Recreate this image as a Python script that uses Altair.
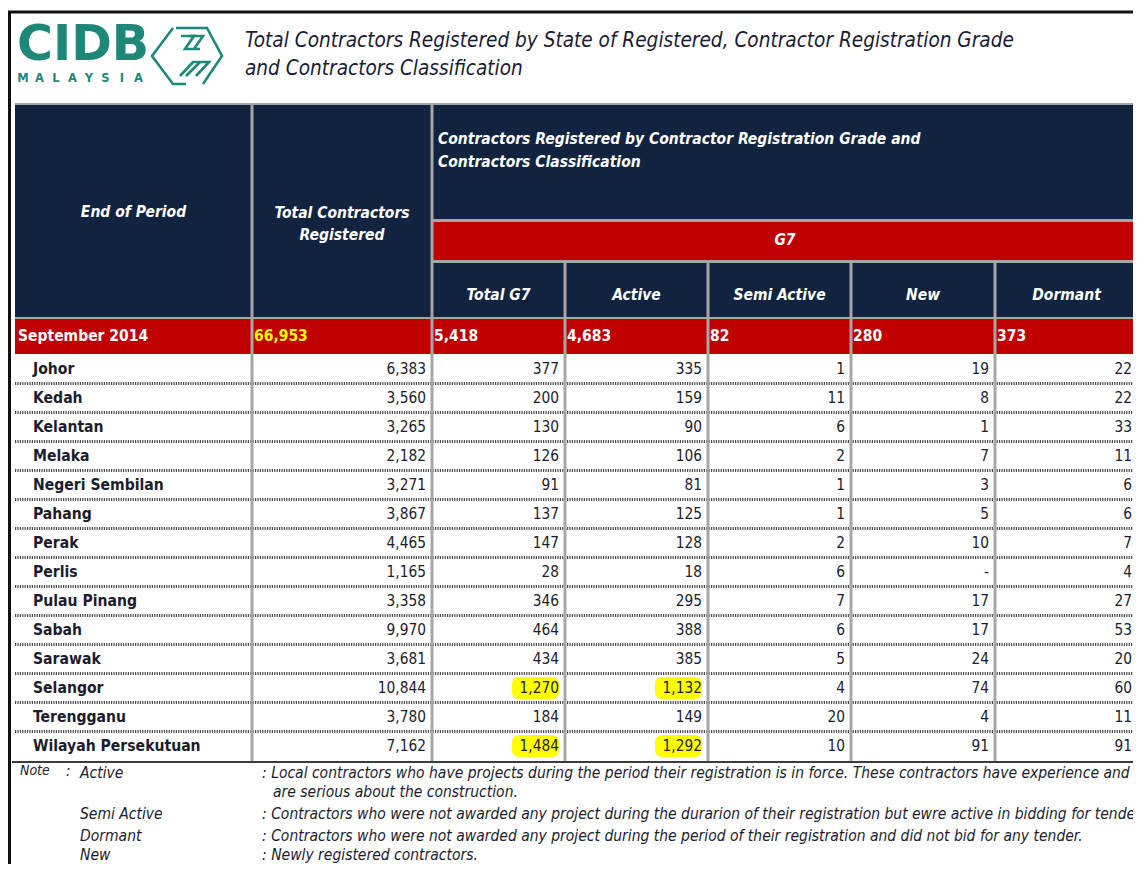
import altair as alt
import pandas as pd

# ---------------- data ----------------
states = ["Johor", "Kedah", "Kelantan", "Melaka", "Negeri Sembilan", "Pahang", "Perak",
          "Perlis", "Pulau Pinang", "Sabah", "Sarawak", "Selangor", "Terengganu",
          "Wilayah Persekutuan"]
total_registered = [6383, 3560, 3265, 2182, 3271, 3867, 4465, 1165, 3358, 9970, 3681, 10844, 3780, 7162]
total_g7 = [377, 200, 130, 126, 91, 137, 147, 28, 346, 464, 434, 1270, 184, 1484]
active = [335, 159, 90, 106, 81, 125, 128, 18, 295, 388, 385, 1132, 149, 1292]
semi_active = [1, 11, 6, 2, 1, 1, 2, 6, 7, 6, 5, 4, 20, 10]
new = [19, 8, 1, 7, 3, 5, 10, None, 17, 17, 24, 74, 4, 91]
dormant = [22, 22, 33, 11, 6, 6, 7, 4, 27, 53, 20, 60, 11, 91]

period_label = "September 2014"
period_totals = [66953, 5418, 4683, 82, 280, 373]
highlighted = [("Selangor", "Total G7"), ("Selangor", "Active"),
               ("Wilayah Persekutuan", "Total G7"), ("Wilayah Persekutuan", "Active")]

title_lines = ["Total Contractors Registered by State of Registered, Contractor Registration Grade",
               "and Contractors Classification"]
head_period = "End of Period"
head_total = ["Total Contractors", "Registered"]
head_group = ["Contractors Registered by Contractor Registration Grade and",
              "Contractors Classification"]
grade_label = "G7"
sub_headers = ["Total G7", "Active", "Semi Active", "New", "Dormant"]
note_label = "Note"
note_terms = ["Active", "Semi Active", "Dormant", "New"]
note_texts = [
    ": Local contractors who have projects during the period their registration is in force. These contractors have experience and",
    ": Contractors who were not awarded any project during the durarion of their registration but ewre active in bidding for tenders.",
    ": Contractors who were not awarded any project during the period of their registration and did not bid for any tender.",
    ": Newly registered contractors.",
]
note_continuation = "are serious about the construction."
logo_word = "CIDB"
logo_sub = "MALAYSIA"

# ---------------- layout (page pixels) ----------------
COL = [15, 252, 432, 565, 708, 851, 995, 1138]
H_TOP, GRP_BOT, G7_TOP, G7_BOT, H_BOT, TOT_BOT = 105, 220, 221, 261, 318, 354
ROW0, ROW_H = 355, 29
NAVY, RED, GRAY, INK, TEAL = "#12233F", "#C00000", "#A6A6A6", "#1C1C2E", "#1E8878"
FONT = "'DejaVu Sans Condensed', Tahoma, 'DejaVu Sans', sans-serif"
LOGO_FONT = "'DejaVu Sans', Verdana, sans-serif"

xs = alt.Scale(domain=[8, 1133], range=[0, 1125], nice=False, zero=False)
ys = alt.Scale(domain=[8, 864], range=[0, 856], nice=False, zero=False)


def X(f="x"):
    return alt.X(f"{f}:Q", scale=xs, axis=None)


def Y(f="y"):
    return alt.Y(f"{f}:Q", scale=ys, axis=None)


def text_layer(rows, align="left", bold=False, italic=False, font=FONT):
    df = pd.DataFrame(rows, columns=["x", "y", "text", "size", "color"])
    return alt.Chart(df).mark_text(
        align=align, baseline="middle", font=font,
        fontWeight="bold" if bold else "normal",
        fontStyle="italic" if italic else "normal",
    ).encode(
        x=X(), y=Y(), text="text:N",
        size=alt.Size("size:Q", scale=None),
        color=alt.Color("color:N", scale=None),
    )


def rect_layer(rows, radius=0):
    df = pd.DataFrame(rows, columns=["x", "x2", "y", "y2", "fill"])
    return alt.Chart(df).mark_rect(cornerRadius=radius).encode(
        x=X(), x2="x2:Q", y=Y(), y2="y2:Q", color=alt.Color("fill:N", scale=None))


def rule_layer(rows, dash=None):
    df = pd.DataFrame(rows, columns=["x", "x2", "y", "y2", "stroke", "w"])
    kw = {"strokeDash": dash} if dash else {}
    return alt.Chart(df).mark_rule(**kw).encode(
        x=X(), x2="x2:Q", y=Y(), y2="y2:Q",
        color=alt.Color("stroke:N", scale=None), size=alt.Size("w:Q", scale=None))


def fmt(v):
    return "-" if v is None else f"{v:,}"


def row_center(i):
    return ROW0 + ROW_H * i + 14


layers = []
n_rows = len(states)
body_cols = ["Total Contractors Registered"] + sub_headers

# backgrounds
layers.append(rect_layer([
    (COL[0], COL[-1], H_TOP, H_BOT, NAVY),
    (COL[2], COL[-1], G7_TOP, G7_BOT, RED),
    (COL[0], COL[-1], H_BOT, TOT_BOT, RED),
]))

# yellow highlights behind chosen cells
hl_rows = []
for st, cname in highlighted:
    i = states.index(st)
    right = COL[body_cols.index(cname) + 2]
    cy = row_center(i)
    hl_rows.append((right - 53, right - 6, cy - 11, cy + 11, "#FFFF00"))
layers.append(rect_layer(hl_rows, radius=7))

# dotted row separators
dots = [(COL[0], COL[-1], ROW0 + ROW_H * i + 28.5, ROW0 + ROW_H * i + 28.5, "#4A4A4A", 3)
        for i in range(n_rows - 1)]
layers.append(rule_layer(dots, dash=[1.2, 1.2]))

# grid lines
body_bottom = ROW0 + ROW_H * n_rows
grid = [
    (COL[0], COL[-1], H_TOP - 1, H_TOP - 1, GRAY, 2),
    (COL[2], COL[-1], GRP_BOT + 0.5, GRP_BOT + 0.5, GRAY, 3),
    (COL[2], COL[-1], G7_BOT + 0.5, G7_BOT + 0.5, GRAY, 3),
    (COL[0], COL[-1], H_BOT, H_BOT, GRAY, 2),
    (COL[1], COL[1], H_TOP - 2, body_bottom, GRAY, 3),
    (COL[2], COL[2], H_TOP - 2, body_bottom, GRAY, 3),
]
for cx in COL[3:-1]:
    grid.append((cx, cx, G7_BOT, body_bottom, GRAY, 3))
grid.append((12, 1141, body_bottom + 1, body_bottom + 1, "#3C3C3C", 2))
# page frame
grid.append((0, 1141, 12, 12, "#111111", 3))
grid.append((9.5, 9.5, 12, 872, "#111111", 3))
layers.append(rule_layer(grid))

# logo
layers.append(text_layer([(17, 45, logo_word, 49, TEAL)], bold=True, font=LOGO_FONT))
layers.append(text_layer([(23 + 16.5 * k, 79, ch, 11.5, TEAL) for k, ch in enumerate(logo_sub)],
                         align="center", bold=True, font=LOGO_FONT))
logo_paths = {
    "a": [(173, 28), (152, 56), (173, 84), (186, 84)],
    "b": [(176, 28), (207, 28), (222, 56), (203, 84)],
    "c": [(181, 36), (194, 36), (185, 49), (200, 49)],
    "d": [(190, 36), (203, 36), (194, 49)],
    "e": [(180, 76), (193, 62), (209, 62), (196, 76)],
    "f": [(186, 76), (200, 62)],
}
lp = pd.DataFrame([(k, j, px, py) for k, pts in logo_paths.items() for j, (px, py) in enumerate(pts)],
                  columns=["part", "o", "x", "y"])
layers.append(alt.Chart(lp).mark_line(color=TEAL, strokeWidth=2.6).encode(
    x=X(), y=Y(), detail="part:N", order="o:Q"))

# title
layers.append(text_layer([(245, 41, title_lines[0], 20.6, "#1A1A33"),
                          (245, 69, title_lines[1], 20.6, "#1A1A33")], italic=True))

# header texts
W = "#FFFFFF"
layers.append(text_layer([
    ((COL[0] + COL[1]) / 2, 212, head_period, 15.5, W),
    ((COL[1] + COL[2]) / 2, 213, head_total[0], 15.5, W),
    ((COL[1] + COL[2]) / 2, 235, head_total[1], 15.5, W),
    ((COL[2] + COL[-1]) / 2, 240, grade_label, 15.5, W),
] + [((COL[c + 2] + COL[c + 3]) / 2, 295, h, 15.5, W) for c, h in enumerate(sub_headers)],
    align="center", bold=True, italic=True))
layers.append(text_layer([(COL[2] + 6, 139, head_group[0], 15.5, W),
                          (COL[2] + 6, 162, head_group[1], 15.5, W)], bold=True, italic=True))

# total row
tot = [(COL[0] + 3, 336, period_label, 15.5, W)]
for c, v in enumerate(period_totals):
    tot.append((COL[c + 1] + 2, 336, fmt(v), 15.5, "#FFFF00" if c == 0 else W))
layers.append(text_layer(tot, bold=True))

# body
layers.append(text_layer([(33, row_center(i), s, 15.6, INK) for i, s in enumerate(states)],
                         bold=True))
cols = [total_registered, total_g7, active, semi_active, new, dormant]
body = []
for c, series in enumerate(cols):
    for i, v in enumerate(series):
        body.append((COL[c + 2] - 6, row_center(i), fmt(v), 15.3, INK))
layers.append(text_layer(body, align="right"))

# notes
notes = [(20, 771, note_label, 14, INK), (66, 771, ":", 15, INK)]
note_y = [773, 814, 836, 855]
for t, d, yy in zip(note_terms, note_texts, note_y):
    notes.append((80, yy, t, 15.5, INK))
    notes.append((262, yy, d, 15.5, INK))
notes.append((273, 792, note_continuation, 15.5, INK))
layers.append(text_layer(notes, italic=True))

chart = alt.layer(*layers).properties(
    width=1125, height=856, padding=0,
    autosize=alt.AutoSizeParams(type="none"),
    background="white",
).configure_view(stroke=None)

chart.save("out.html", embed_options={"renderer": "svg", "actions": False})
